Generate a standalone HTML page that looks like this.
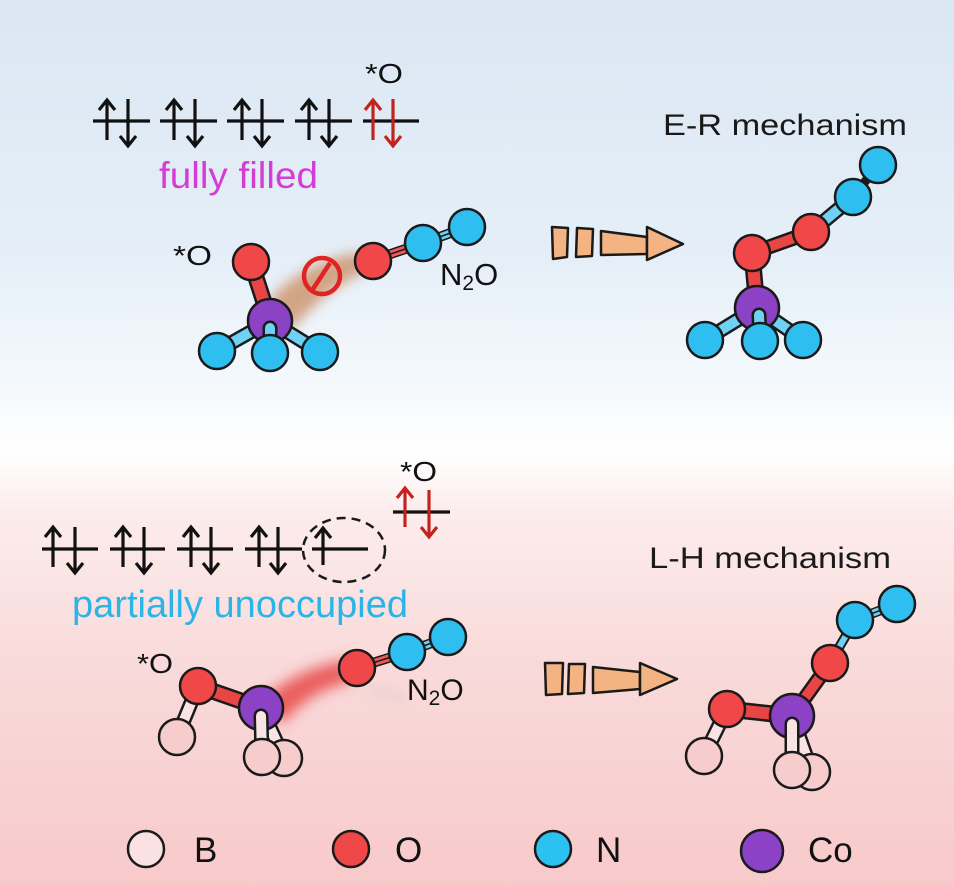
<!DOCTYPE html>
<html><head><meta charset="utf-8"><style>
html,body{margin:0;padding:0;}
body{width:954px;height:886px;overflow:hidden;}
svg{display:block;}
text{font-family:"Liberation Sans",Arial,sans-serif;}
</style></head><body>
<svg width="954" height="886" viewBox="0 0 954 886" xmlns="http://www.w3.org/2000/svg">
<defs>
<linearGradient id="bg" x1="0" y1="0" x2="0" y2="1">
<stop offset="0" stop-color="#dae7f3"/>
<stop offset="0.3" stop-color="#e6eff8"/>
<stop offset="0.44" stop-color="#f5f9fc"/>
<stop offset="0.51" stop-color="#ffffff"/>
<stop offset="0.58" stop-color="#fcecec"/>
<stop offset="0.75" stop-color="#f9dada"/>
<stop offset="1" stop-color="#f8c9ca"/>
</linearGradient>
<filter id="blur1" x="-50%" y="-50%" width="200%" height="200%"><feGaussianBlur stdDeviation="6"/></filter>
<filter id="blur2" x="-50%" y="-50%" width="200%" height="200%"><feGaussianBlur stdDeviation="7"/></filter>
</defs>
<rect width="954" height="886" fill="url(#bg)"/>

<!-- ===== TOP ORBITALS ===== -->
<g stroke="#111" stroke-width="3.2" fill="none">
<line x1="93" y1="121" x2="150" y2="121"/>
<line x1="160" y1="121" x2="217" y2="121"/>
<line x1="227" y1="121" x2="284" y2="121"/>
<line x1="295" y1="121" x2="352" y2="121"/>
<line x1="107" y1="140" x2="107" y2="100"/><polyline points="99,110 107,100 115,110"/>
<line x1="128" y1="99" x2="128" y2="146"/><polyline points="120,136 128,146 136,136"/>
<line x1="174" y1="140" x2="174" y2="100"/><polyline points="166,110 174,100 182,110"/>
<line x1="195" y1="99" x2="195" y2="146"/><polyline points="187,136 195,146 203,136"/>
<line x1="242" y1="140" x2="242" y2="100"/><polyline points="234,110 242,100 250,110"/>
<line x1="262" y1="99" x2="262" y2="146"/><polyline points="254,136 262,146 270,136"/>
<line x1="309" y1="140" x2="309" y2="100"/><polyline points="301,110 309,100 317,110"/>
<line x1="329" y1="99" x2="329" y2="146"/><polyline points="321,136 329,146 337,136"/>
<line x1="363" y1="121" x2="419" y2="121"/>
</g>
<g stroke="#c4221c" stroke-width="3.2" fill="none">
<line x1="373" y1="140" x2="373" y2="100"/><polyline points="365,110 373,100 381,110"/>
<line x1="393" y1="99" x2="393" y2="146"/><polyline points="385,136 393,146 401,136"/>
</g>
<text x="365" y="83" font-size="28" fill="#111" textLength="38" lengthAdjust="spacingAndGlyphs">*O</text>
<text x="159" y="188" font-size="37" fill="#d53bd5" textLength="159" lengthAdjust="spacingAndGlyphs">fully filled</text>
<text x="663" y="135" font-size="30" fill="#1a1a1a" textLength="244" lengthAdjust="spacingAndGlyphs">E-R mechanism</text>

<!-- ===== TOP-LEFT MOLECULE ===== -->
<path d="M270,300 C285,280 320,258 360,252 L366,272 C335,284 312,306 292,330 Z" fill="#c98a5e" opacity="0.75" filter="url(#blur1)"/>
<text x="173" y="265" font-size="28" fill="#111" textLength="39" lengthAdjust="spacingAndGlyphs">*O</text>
<g stroke-linecap="round">
<line x1="251" y1="262" x2="270" y2="321" stroke="#1a1a1a" stroke-width="17"/>
<line x1="251" y1="262" x2="270" y2="321" stroke="#ea4545" stroke-width="12"/>
<line x1="270" y1="321" x2="217" y2="351" stroke="#1a1a1a" stroke-width="15"/>
<line x1="270" y1="321" x2="217" y2="351" stroke="#6fd2f4" stroke-width="10"/>
<line x1="270" y1="321" x2="320" y2="352" stroke="#1a1a1a" stroke-width="15"/>
<line x1="270" y1="321" x2="320" y2="352" stroke="#6fd2f4" stroke-width="10"/>
</g>
<g stroke="#1a1a1a" stroke-width="2.5">
<circle cx="251" cy="262" r="18" fill="#f04848"/>
<circle cx="217" cy="351" r="18" fill="#2ebff0"/>
<circle cx="320" cy="352" r="18" fill="#2ebff0"/>
<circle cx="270" cy="321" r="22" fill="#8b42c4"/>
</g>
<line x1="270" y1="328" x2="270" y2="352" stroke="#1a1a1a" stroke-width="15" stroke-linecap="round"/>
<line x1="270" y1="328" x2="270" y2="352" stroke="#6fd2f4" stroke-width="10" stroke-linecap="round"/>
<circle cx="270" cy="353" r="18" fill="#2ebff0" stroke="#1a1a1a" stroke-width="2.5"/>
<circle cx="322" cy="276" r="18" fill="none" stroke="#e02424" stroke-width="4.5"/>
<line x1="330" y1="263" x2="313" y2="289" stroke="#e02424" stroke-width="4.5"/>
<line x1="373" y1="260" x2="423" y2="243" stroke="#1a1a1a" stroke-width="10"/>
<line x1="373" y1="260" x2="423" y2="243" stroke="#ee5a5a" stroke-width="7"/>
<line x1="373" y1="260" x2="423" y2="243" stroke="#1a1a1a" stroke-width="1.5"/>
<line x1="423" y1="243" x2="467" y2="227" stroke="#1a1a1a" stroke-width="10"/>
<line x1="423" y1="243" x2="467" y2="227" stroke="#6fd2f4" stroke-width="7"/>
<line x1="423" y1="243" x2="467" y2="227" stroke="#1a1a1a" stroke-width="1.5"/>
<g stroke="#1a1a1a" stroke-width="2.5">
<circle cx="373" cy="261" r="18" fill="#f04848"/>
<circle cx="467" cy="227" r="18" fill="#2ebff0"/>
<circle cx="423" cy="243" r="18" fill="#2ebff0"/>
</g>
<text x="440" y="285" font-size="31" fill="#111">N<tspan font-size="21" dy="5">2</tspan><tspan dy="-5">O</tspan></text>

<!-- ===== TOP ARROW ===== -->
<g fill="#f4b382" stroke="#1a1a1a" stroke-width="2.5" stroke-linejoin="round">
<polygon points="552,227 568,228 567,257 553,259"/>
<polygon points="577,228 593,229 592,256 576,257"/>
<polygon points="601,231 647,237 647,254 601,255"/>
<polygon points="647,227 683,244 647,260"/>
</g>

<!-- ===== TOP-RIGHT MOLECULE ===== -->
<g stroke-linecap="round">
<line x1="757" y1="308" x2="752" y2="253" stroke="#1a1a1a" stroke-width="17"/>
<line x1="757" y1="308" x2="752" y2="253" stroke="#ea4545" stroke-width="12"/>
<line x1="752" y1="253" x2="811" y2="232" stroke="#1a1a1a" stroke-width="15"/>
<line x1="752" y1="253" x2="811" y2="232" stroke="#ea4545" stroke-width="10"/>
<line x1="811" y1="232" x2="853" y2="197" stroke="#1a1a1a" stroke-width="15"/>
<line x1="811" y1="232" x2="853" y2="197" stroke="#6fd2f4" stroke-width="10"/>
<line x1="757" y1="308" x2="705" y2="340" stroke="#1a1a1a" stroke-width="15"/>
<line x1="757" y1="308" x2="705" y2="340" stroke="#6fd2f4" stroke-width="10"/>
<line x1="757" y1="308" x2="803" y2="340" stroke="#1a1a1a" stroke-width="15"/>
<line x1="757" y1="308" x2="803" y2="340" stroke="#6fd2f4" stroke-width="10"/>
</g>
<line x1="853" y1="197" x2="878" y2="165" stroke="#1a1a1a" stroke-width="9"/>
<g stroke="#1a1a1a" stroke-width="2.5">
<circle cx="878" cy="165" r="18" fill="#2ebff0"/>
<circle cx="853" cy="197" r="18" fill="#2ebff0"/>
<circle cx="811" cy="232" r="18" fill="#f04848"/>
<circle cx="752" cy="253" r="18" fill="#f04848"/>
<circle cx="705" cy="340" r="18" fill="#2ebff0"/>
<circle cx="803" cy="340" r="18" fill="#2ebff0"/>
<circle cx="757" cy="308" r="22" fill="#8b42c4"/>
</g>
<line x1="759" y1="315" x2="760" y2="340" stroke="#1a1a1a" stroke-width="15" stroke-linecap="round"/>
<line x1="759" y1="315" x2="760" y2="340" stroke="#6fd2f4" stroke-width="10" stroke-linecap="round"/>
<circle cx="760" cy="341" r="18" fill="#2ebff0" stroke="#1a1a1a" stroke-width="2.5"/>

<!-- ===== BOTTOM ORBITALS ===== -->
<g stroke="#111" stroke-width="3.2" fill="none">
<line x1="42" y1="549" x2="98" y2="549"/>
<line x1="110" y1="549" x2="165" y2="549"/>
<line x1="177" y1="549" x2="233" y2="549"/>
<line x1="245" y1="549" x2="302" y2="549"/>
<line x1="312" y1="549" x2="368" y2="549"/>
<line x1="53" y1="567" x2="53" y2="527"/><polyline points="45,537 53,527 61,537"/>
<line x1="75" y1="527" x2="75" y2="573"/><polyline points="67,563 75,573 83,563"/>
<line x1="123" y1="567" x2="123" y2="527"/><polyline points="115,537 123,527 131,537"/>
<line x1="144" y1="527" x2="144" y2="573"/><polyline points="136,563 144,573 152,563"/>
<line x1="191" y1="567" x2="191" y2="527"/><polyline points="183,537 191,527 199,537"/>
<line x1="211" y1="527" x2="211" y2="573"/><polyline points="203,563 211,573 219,563"/>
<line x1="259" y1="567" x2="259" y2="527"/><polyline points="251,537 259,527 267,537"/>
<line x1="278" y1="527" x2="278" y2="573"/><polyline points="270,563 278,573 286,563"/>
<line x1="323" y1="565" x2="323" y2="528"/><polyline points="315,538 323,528 331,538"/>
</g>
<ellipse cx="344" cy="550" rx="41" ry="32" fill="none" stroke="#1a1a1a" stroke-width="2.5" stroke-dasharray="9,6"/>
<line x1="393" y1="512" x2="450" y2="512" stroke="#111" stroke-width="3.2"/>
<g stroke="#c4221c" stroke-width="3.2" fill="none">
<line x1="405" y1="527" x2="405" y2="488"/><polyline points="397,498 405,488 413,498"/>
<line x1="429" y1="490" x2="429" y2="537"/><polyline points="421,527 429,537 437,527"/>
</g>
<text x="400" y="481" font-size="28" fill="#111" textLength="37" lengthAdjust="spacingAndGlyphs">*O</text>
<text x="72" y="617" font-size="38" fill="#2bb5e6" textLength="336" lengthAdjust="spacingAndGlyphs">partially unoccupied</text>
<text x="649" y="568" font-size="30" fill="#1a1a1a" textLength="242" lengthAdjust="spacingAndGlyphs">L-H mechanism</text>

<!-- ===== BOTTOM-LEFT MOLECULE ===== -->
<path d="M262,700 C285,680 315,664 350,660 L352,682 C325,686 300,702 282,724 Z" fill="#e83c3c" opacity="0.8" filter="url(#blur2)"/>
<path d="M368,688 C380,690 395,695 405,700" stroke="#bbb" stroke-width="5" fill="none" opacity="0.4" filter="url(#blur1)"/>
<text x="137" y="673" font-size="28" fill="#111" textLength="36" lengthAdjust="spacingAndGlyphs">*O</text>
<g stroke-linecap="round">
<line x1="198" y1="686" x2="261" y2="708" stroke="#1a1a1a" stroke-width="17"/>
<line x1="198" y1="686" x2="261" y2="708" stroke="#ea4545" stroke-width="12"/>
<line x1="198" y1="686" x2="177" y2="737" stroke="#1a1a1a" stroke-width="15"/>
<line x1="198" y1="686" x2="177" y2="737" stroke="#f9e4e4" stroke-width="10"/>
<line x1="261" y1="708" x2="284" y2="758" stroke="#1a1a1a" stroke-width="15"/>
<line x1="261" y1="708" x2="284" y2="758" stroke="#f9e4e4" stroke-width="10"/>
</g>
<g stroke="#1a1a1a" stroke-width="2.5">
<circle cx="177" cy="737" r="18" fill="#f7cccc"/>
<circle cx="198" cy="686" r="18" fill="#f04848"/>
<circle cx="284" cy="758" r="18" fill="#f7cccc"/>
<circle cx="261" cy="708" r="22" fill="#8b42c4"/>
</g>
<line x1="261" y1="716" x2="262" y2="757" stroke="#1a1a1a" stroke-width="15" stroke-linecap="round"/>
<line x1="261" y1="716" x2="262" y2="757" stroke="#f9e4e4" stroke-width="10" stroke-linecap="round"/>
<circle cx="262" cy="757" r="18" fill="#f7cccc" stroke="#1a1a1a" stroke-width="2.5"/>
<line x1="357" y1="668" x2="407" y2="652" stroke="#1a1a1a" stroke-width="10"/>
<line x1="357" y1="668" x2="407" y2="652" stroke="#ee5a5a" stroke-width="7"/>
<line x1="357" y1="668" x2="407" y2="652" stroke="#1a1a1a" stroke-width="1.5"/>
<line x1="407" y1="652" x2="448" y2="637" stroke="#1a1a1a" stroke-width="10"/>
<line x1="407" y1="652" x2="448" y2="637" stroke="#6fd2f4" stroke-width="7"/>
<line x1="407" y1="652" x2="448" y2="637" stroke="#1a1a1a" stroke-width="1.5"/>
<g stroke="#1a1a1a" stroke-width="2.5">
<circle cx="357" cy="668" r="18" fill="#f04848"/>
<circle cx="448" cy="637" r="18" fill="#2ebff0"/>
<circle cx="407" cy="652" r="18" fill="#2ebff0"/>
</g>
<text x="407" y="700" font-size="30" fill="#111">N<tspan font-size="21" dy="5">2</tspan><tspan dy="-5">O</tspan></text>

<!-- ===== BOTTOM ARROW ===== -->
<g fill="#f4b382" stroke="#1a1a1a" stroke-width="2.5" stroke-linejoin="round">
<polygon points="545,663 563,663 562,694 546,695"/>
<polygon points="569,664 585,664 584,693 568,694"/>
<polygon points="593,667 640,672 640,689 593,693"/>
<polygon points="640,663 677,679 640,695"/>
</g>

<!-- ===== BOTTOM-RIGHT MOLECULE ===== -->
<g stroke-linecap="round">
<line x1="727" y1="709" x2="792" y2="716" stroke="#1a1a1a" stroke-width="17"/>
<line x1="727" y1="709" x2="792" y2="716" stroke="#ea4545" stroke-width="12"/>
<line x1="792" y1="716" x2="830" y2="663" stroke="#1a1a1a" stroke-width="15"/>
<line x1="792" y1="716" x2="830" y2="663" stroke="#ea4545" stroke-width="10"/>
<line x1="830" y1="663" x2="855" y2="620" stroke="#1a1a1a" stroke-width="10"/>
<line x1="830" y1="663" x2="855" y2="620" stroke="#6fd2f4" stroke-width="6"/>
<line x1="727" y1="709" x2="704" y2="756" stroke="#1a1a1a" stroke-width="15"/>
<line x1="727" y1="709" x2="704" y2="756" stroke="#f9e4e4" stroke-width="10"/>
<line x1="792" y1="716" x2="812" y2="772" stroke="#1a1a1a" stroke-width="15"/>
<line x1="792" y1="716" x2="812" y2="772" stroke="#f9e4e4" stroke-width="10"/>
</g>
<line x1="855" y1="620" x2="897" y2="604" stroke="#1a1a1a" stroke-width="10"/>
<line x1="855" y1="620" x2="897" y2="604" stroke="#6fd2f4" stroke-width="7"/>
<line x1="855" y1="620" x2="897" y2="604" stroke="#1a1a1a" stroke-width="1.5"/>
<g stroke="#1a1a1a" stroke-width="2.5">
<circle cx="704" cy="756" r="18" fill="#f7cccc"/>
<circle cx="727" cy="709" r="18" fill="#f04848"/>
<circle cx="830" cy="663" r="18" fill="#f04848"/>
<circle cx="897" cy="604" r="18" fill="#2ebff0"/>
<circle cx="855" cy="620" r="18" fill="#2ebff0"/>
<circle cx="812" cy="772" r="18" fill="#f7cccc"/>
<circle cx="792" cy="716" r="22" fill="#8b42c4"/>
</g>
<line x1="792" y1="724" x2="792" y2="770" stroke="#1a1a1a" stroke-width="15" stroke-linecap="round"/>
<line x1="792" y1="724" x2="792" y2="770" stroke="#f9e4e4" stroke-width="10" stroke-linecap="round"/>
<circle cx="792" cy="770" r="18" fill="#f7cccc" stroke="#1a1a1a" stroke-width="2.5"/>

<!-- ===== LEGEND ===== -->
<g stroke="#1a1a1a" stroke-width="2.5">
<circle cx="146" cy="849" r="18" fill="#fbe2e2"/>
<circle cx="351" cy="849" r="18" fill="#f04848"/>
<circle cx="553" cy="849" r="18" fill="#2cc2f0"/>
<circle cx="762" cy="851" r="21" fill="#8b42c6"/>
</g>
<g font-size="35" fill="#111">
<text x="194" y="862">B</text>
<text x="395" y="862">O</text>
<text x="596" y="862">N</text>
<text x="808" y="862">Co</text>
</g>
</svg>
</body></html>
